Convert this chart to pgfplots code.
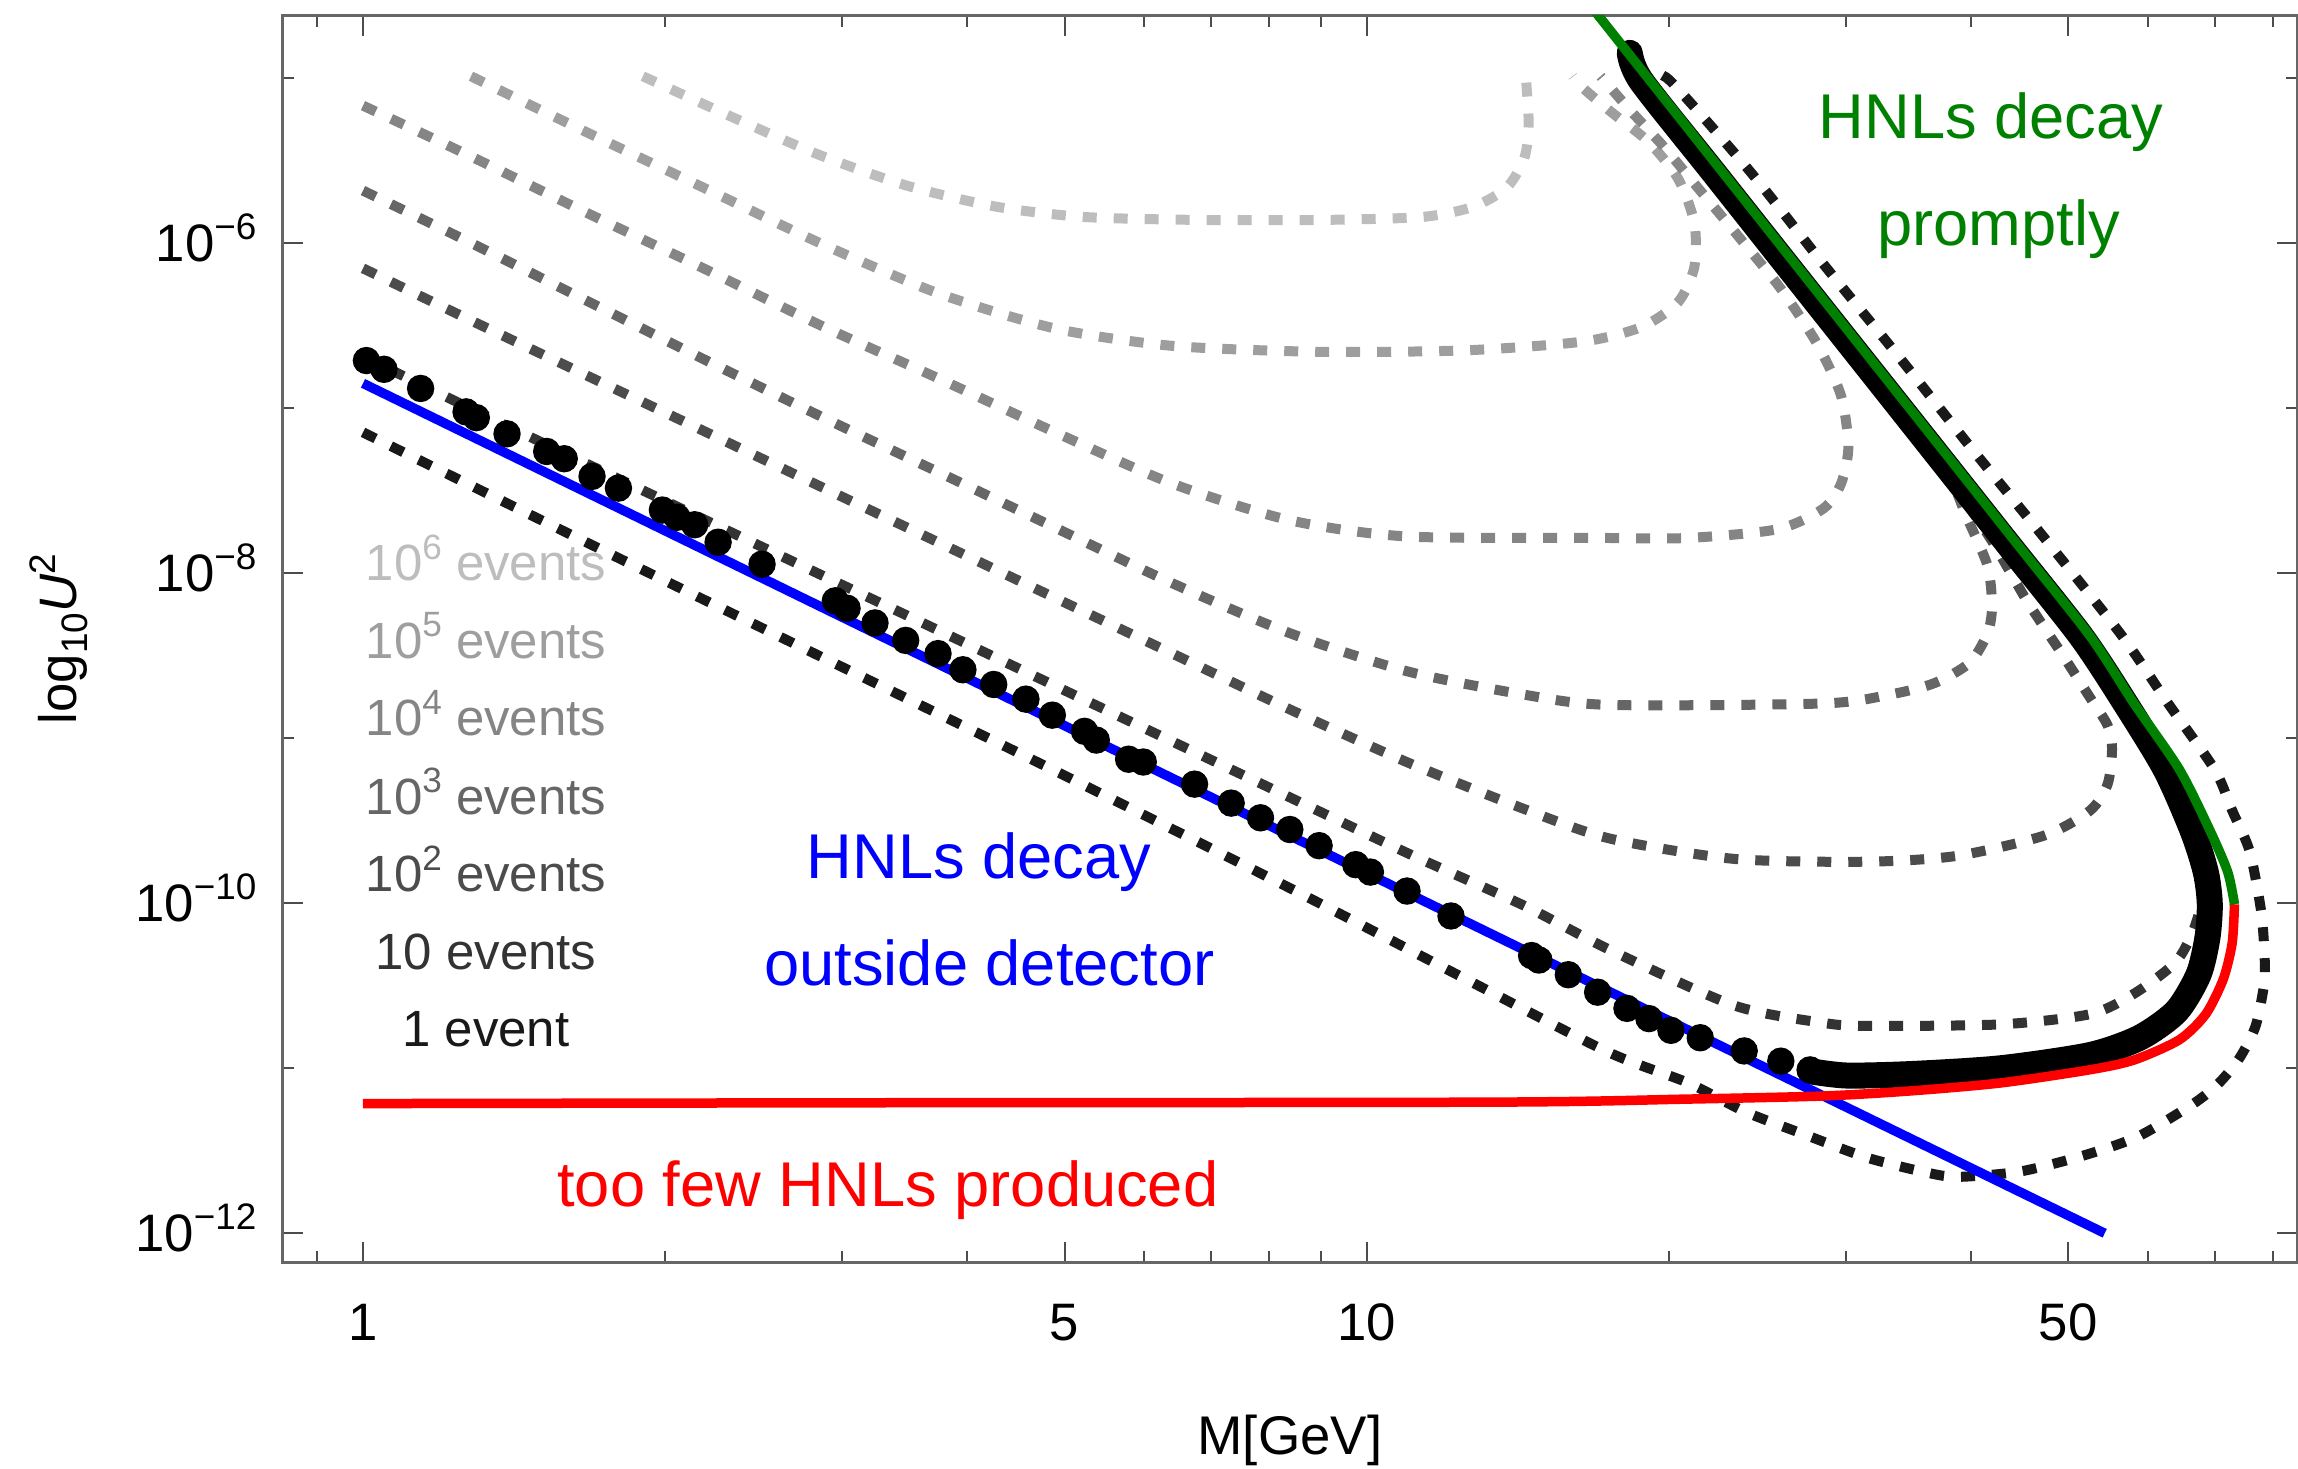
\documentclass[border=0pt]{standalone}
\usepackage{fontspec}
\setmainfont{Liberation Sans}
\usepackage{pgfplots}
\pgfplotsset{compat=1.18}
\definecolor{g6}{gray}{0.74}
\definecolor{g5}{gray}{0.62}
\definecolor{g4}{gray}{0.52}
\definecolor{g3}{gray}{0.40}
\definecolor{g2}{gray}{0.30}
\definecolor{g1}{gray}{0.20}
\definecolor{g0}{gray}{0.10}
\definecolor{mgreen}{rgb}{0,0.5,0}
\newcommand\tl[1]{10\raisebox{6.2pt}{\fontsize{10.5}{12}\selectfont −#1}}
\newcommand\evt[1]{10\raisebox{6pt}{\fontsize{10}{12}\selectfont #1} events}
\tikzset{dsh/.style={line width=1.0mm, dash pattern=on 1.4mm off 1.7mm, smooth, tension=0.45}}
\begin{document}
\begin{tikzpicture}
\path[use as bounding box] (-28.27mm,-20.57mm) rectangle (201.53mm,126.23mm);
\begin{axis}[
  at={(0,0)}, anchor=south west,
  scale only axis, width=201.43mm, height=124.66mm,
  xmin=-0.0800, xmax=1.9269, ymin=-12.179, ymax=-4.624,
  xtick={0,0.69897,1,1.69897}, xticklabels={1,5,10,50},
  minor xtick={-0.04576,0.30103,0.47712,0.60206,0.77815,0.84510,0.90309,0.95424,1.30103,1.47712,1.60206,1.77815,1.84510,1.90309},
  ytick={-12,-10,-8,-6}, yticklabels={\tl{12},\tl{10},\tl{8},\tl{6}},
  minor ytick={-11,-9,-7,-5},
  tick align=inside,
  major tick length=2mm, minor tick length=1.1mm,
  axis line style={draw=black!60, line width=0.3mm},
  tick style={draw=black!70, line width=0.2mm},
  tick label style={font=\fontsize{15}{18}\selectfont, text=black},
  xticklabel style={anchor=base, inner sep=0pt, yshift=-7.77mm},
  yticklabel style={anchor=base east, inner sep=0pt, xshift=-2.55mm, yshift=-1.9mm},
  xlabel={M[GeV]},
  ylabel={log\raisebox{-3pt}{\fontsize{10.5}{12}\selectfont 10}\textit{U}\raisebox{6pt}{\fontsize{10.5}{12}\selectfont 2}},
  every axis x label/.style={at={(axis description cs:0.5,-0.1431)}, anchor=center, font=\fontsize{15.5}{18}\selectfont},
  every axis y label/.style={at={(axis description cs:-0.1112,0.5)}, anchor=center, rotate=90, font=\fontsize{15}{18}\selectfont},
]
% 10^6 events
\addplot[g6, dsh] coordinates {(0.2788,-4.991) (0.3684,-5.240) (0.4560,-5.471) (0.5436,-5.657) (0.6313,-5.782) (0.7189,-5.844) (0.8358,-5.862) (0.9526,-5.862) (1.0548,-5.844) (1.1059,-5.782) (1.1395,-5.666) (1.1570,-5.488) (1.1614,-5.284) (1.1585,-4.991)};
% 10^5 events
\addplot[g5, dsh] coordinates {(0.1076,-4.991) (0.2224,-5.329) (0.3392,-5.666) (0.4560,-6.004) (0.5729,-6.306) (0.6897,-6.520) (0.8065,-6.625) (0.9526,-6.661) (1.0986,-6.652) (1.2154,-6.599) (1.2739,-6.510) (1.3104,-6.359) (1.3265,-6.146) (1.3265,-5.880) (1.3104,-5.613) (1.2812,-5.391) (1.2447,-5.213) (1.2154,-5.062) (1.2052,-4.991)};
% 10^4 events
\addplot[g4, dsh] coordinates {(0,-5.169) (0.1056,-5.471) (0.2224,-5.817) (0.3392,-6.155) (0.4560,-6.501) (0.5729,-6.821) (0.6897,-7.149) (0.8065,-7.460) (0.9234,-7.682) (1.0402,-7.780) (1.2330,-7.789) (1.3203,-7.789) (1.4094,-7.736) (1.4550,-7.611) (1.4726,-7.460) (1.4799,-7.238) (1.4726,-6.927) (1.4491,-6.616) (1.4126,-6.279) (1.3688,-5.950) (1.3323,-5.684) (1.2958,-5.417) (1.2622,-5.195) (1.2330,-4.991)};
% 10^3 events
\addplot[g3, dsh] coordinates {(0,-5.684) (0.1056,-5.995) (0.2224,-6.350) (0.3392,-6.705) (0.4560,-7.052) (0.5729,-7.389) (0.6897,-7.727) (0.8065,-8.064) (0.9234,-8.366) (1.0402,-8.597) (1.1570,-8.739) (1.2417,-8.801) (1.4550,-8.792) (1.5207,-8.739) (1.5660,-8.668) (1.6010,-8.544) (1.6186,-8.366) (1.6230,-8.206) (1.6186,-7.958) (1.5967,-7.647) (1.5835,-7.460) (1.5514,-7.185) (1.5251,-6.963) (1.4988,-6.750) (1.4681,-6.536) (1.4491,-6.376) (1.4053,-6.039) (1.3615,-5.710) (1.3177,-5.391) (1.2812,-5.133) (1.2637,-4.991)};
% 10^2 events
\addplot[g2, dsh] coordinates {(0,-6.155) (0.1056,-6.465) (0.2224,-6.803) (0.3392,-7.140) (0.4560,-7.478) (0.5729,-7.815) (0.6897,-8.153) (0.8065,-8.490) (0.9234,-8.828) (1.0402,-9.148) (1.1570,-9.432) (1.2417,-9.610) (1.3659,-9.734) (1.4988,-9.751) (1.5878,-9.716) (1.6754,-9.592) (1.7207,-9.441) (1.7382,-9.281) (1.7426,-9.068) (1.7382,-8.925) (1.7207,-8.757) (1.6944,-8.508) (1.6579,-8.171) (1.6228,-7.806) (1.5878,-7.495) (1.5367,-7.087) (1.4929,-6.750) (1.4491,-6.394) (1.3907,-5.950) (1.3323,-5.524) (1.2914,-5.204) (1.2666,-4.991)};
% 10 events
\addplot[g1, dsh] coordinates {(0,-6.689) (0.1056,-7.000) (0.2224,-7.338) (0.3392,-7.675) (0.4560,-8.012) (0.5729,-8.348) (0.6897,-8.686) (0.8065,-9.023) (0.9234,-9.361) (1.0402,-9.698) (1.1570,-10.018) (1.2417,-10.284) (1.3659,-10.622) (1.4550,-10.728) (1.4988,-10.746) (1.6316,-10.737) (1.7207,-10.675) (1.7645,-10.551) (1.8054,-10.364) (1.8229,-10.178) (1.8346,-9.947) (1.8360,-9.814) (1.8230,-9.565) (1.7960,-9.192) (1.7560,-8.792) (1.7116,-8.383) (1.6371,-7.811) (1.5641,-7.250) (1.4911,-6.690) (1.4181,-6.130) (1.3451,-5.569) (1.2736,-5.020)};
% 1 event
\addplot[g0, dsh] coordinates {(0,-7.149) (0.2224,-7.815) (0.4560,-8.508) (0.6897,-9.201) (0.9234,-9.911) (1.0986,-10.462) (1.2395,-10.902) (1.3205,-11.092) (1.3769,-11.266) (1.4374,-11.407) (1.4987,-11.545) (1.5600,-11.638) (1.5901,-11.661) (1.6506,-11.629) (1.7119,-11.536) (1.7683,-11.417) (1.8243,-11.215) (1.8492,-11.092) (1.8696,-10.941) (1.8857,-10.746) (1.8944,-10.480) (1.8944,-10.302) (1.8912,-10.053) (1.8798,-9.689) (1.8623,-9.441) (1.8448,-9.192) (1.7985,-8.792) (1.7526,-8.383) (1.6781,-7.811) (1.6031,-7.250) (1.5301,-6.690) (1.4551,-6.130) (1.3821,-5.569) (1.3026,-5.020) (1.2850,-4.991)};
% dots (sparse part)
\addplot[only marks, mark=*, mark size=1.3mm, black] coordinates {(0.0034,-6.714) (0.0209,-6.767) (0.0574,-6.883) (0.1027,-7.025) (0.1129,-7.060) (0.1435,-7.158) (0.1830,-7.265) (0.2005,-7.309) (0.2282,-7.416) (0.2545,-7.487) (0.2983,-7.620) (0.3129,-7.664) (0.3304,-7.709) (0.3538,-7.815) (0.3976,-7.948) (0.4706,-8.170) (0.4823,-8.215) (0.5101,-8.304) (0.5407,-8.410) (0.5729,-8.490) (0.5977,-8.588) (0.6284,-8.677) (0.6605,-8.766) (0.6868,-8.863) (0.7189,-8.961) (0.7306,-9.014) (0.7628,-9.130) (0.7774,-9.147) (0.8285,-9.281) (0.8650,-9.396) (0.8942,-9.485) (0.9234,-9.556) (0.9526,-9.654) (0.9891,-9.769) (1.0037,-9.814) (1.0402,-9.929) (1.0840,-10.080) (1.1643,-10.320) (1.1716,-10.347) (1.2009,-10.436) (1.2301,-10.542) (1.2593,-10.640) (1.2812,-10.702) (1.3031,-10.773) (1.3323,-10.818) (1.3761,-10.898) (1.4126,-10.960) (1.4418,-11.013)};
% dots (dense part)
\addplot[black, line width=2.6mm, line cap=round, line join=round, smooth, tension=0.45] coordinates {(1.4418,-11.021) (1.4783,-11.047) (1.5425,-11.038) (1.6316,-11.003) (1.7206,-10.923) (1.7704,-10.817) (1.8069,-10.657) (1.8288,-10.435) (1.8376,-10.213) (1.8400,-10.009) (1.8360,-9.814) (1.8230,-9.565) (1.7960,-9.192) (1.7560,-8.792) (1.7116,-8.383) (1.6371,-7.811) (1.5641,-7.250) (1.4911,-6.690) (1.4181,-6.130) (1.3451,-5.569) (1.2736,-5.020) (1.2621,-4.849)};
% blue
\addplot[blue, line width=0.95mm] coordinates {(0,-6.852) (1.7353,-12.003)};
% red
\addplot[red, line width=0.95mm, smooth, tension=0.45] coordinates {(0,-11.217) (0.5145,-11.212) (1.1322,-11.208) (1.3177,-11.190) (1.4550,-11.171) (1.5425,-11.140) (1.6316,-11.092) (1.7206,-11.012) (1.7645,-10.953) (1.8097,-10.830) (1.8360,-10.675) (1.8535,-10.462) (1.8623,-10.244) (1.8646,-10.009)};
% green
\addplot[mgreen, line width=0.95mm, smooth, tension=0.45] coordinates {(1.2265,-4.590) (1.2826,-5.020) (1.3541,-5.569) (1.4271,-6.130) (1.5001,-6.690) (1.5731,-7.250) (1.6461,-7.811) (1.7206,-8.383) (1.7645,-8.792) (1.8097,-9.192) (1.8404,-9.565) (1.8579,-9.814) (1.8646,-10.009)};
% texts
\node[anchor=base, font=\fontsize{18}{21}\selectfont, text=mgreen] at (axis cs:1.6220,-5.3673) {HNLs decay};
\node[anchor=base, font=\fontsize{18}{21}\selectfont, text=mgreen] at (axis cs:1.6296,-6.0139) {promptly};
\node[anchor=base, font=\fontsize{18}{21}\selectfont, text=blue] at (axis cs:0.6137,-9.8503) {HNLs decay};
\node[anchor=base, font=\fontsize{18}{21}\selectfont, text=blue] at (axis cs:0.6240,-10.4988) {outside detector};
\node[anchor=base, font=\fontsize{18}{21}\selectfont, text=red] at (axis cs:0.523,-11.8382) {too few HNLs produced};
\node[anchor=base, font=\fontsize{14.5}{17}\selectfont, text=g6] at (axis cs:0.1225,-8.0461) {\evt{6}};
\node[anchor=base, font=\fontsize{14.5}{17}\selectfont, text=g5] at (axis cs:0.1225,-8.5170) {\evt{5}};
\node[anchor=base, font=\fontsize{14.5}{17}\selectfont, text=g4] at (axis cs:0.1225,-8.9873) {\evt{4}};
\node[anchor=base, font=\fontsize{14.5}{17}\selectfont, text=g3] at (axis cs:0.1225,-9.4624) {\evt{3}};
\node[anchor=base, font=\fontsize{14.5}{17}\selectfont, text=g2] at (axis cs:0.1225,-9.9315) {\evt{2}};
\node[anchor=base, font=\fontsize{14.5}{17}\selectfont, text=g1] at (axis cs:0.1225,-10.4018) {10 events};
\node[anchor=base, font=\fontsize{14.5}{17}\selectfont, text=g0] at (axis cs:0.1225,-10.8709) {1 event};
\end{axis}
\end{tikzpicture}
\end{document}
